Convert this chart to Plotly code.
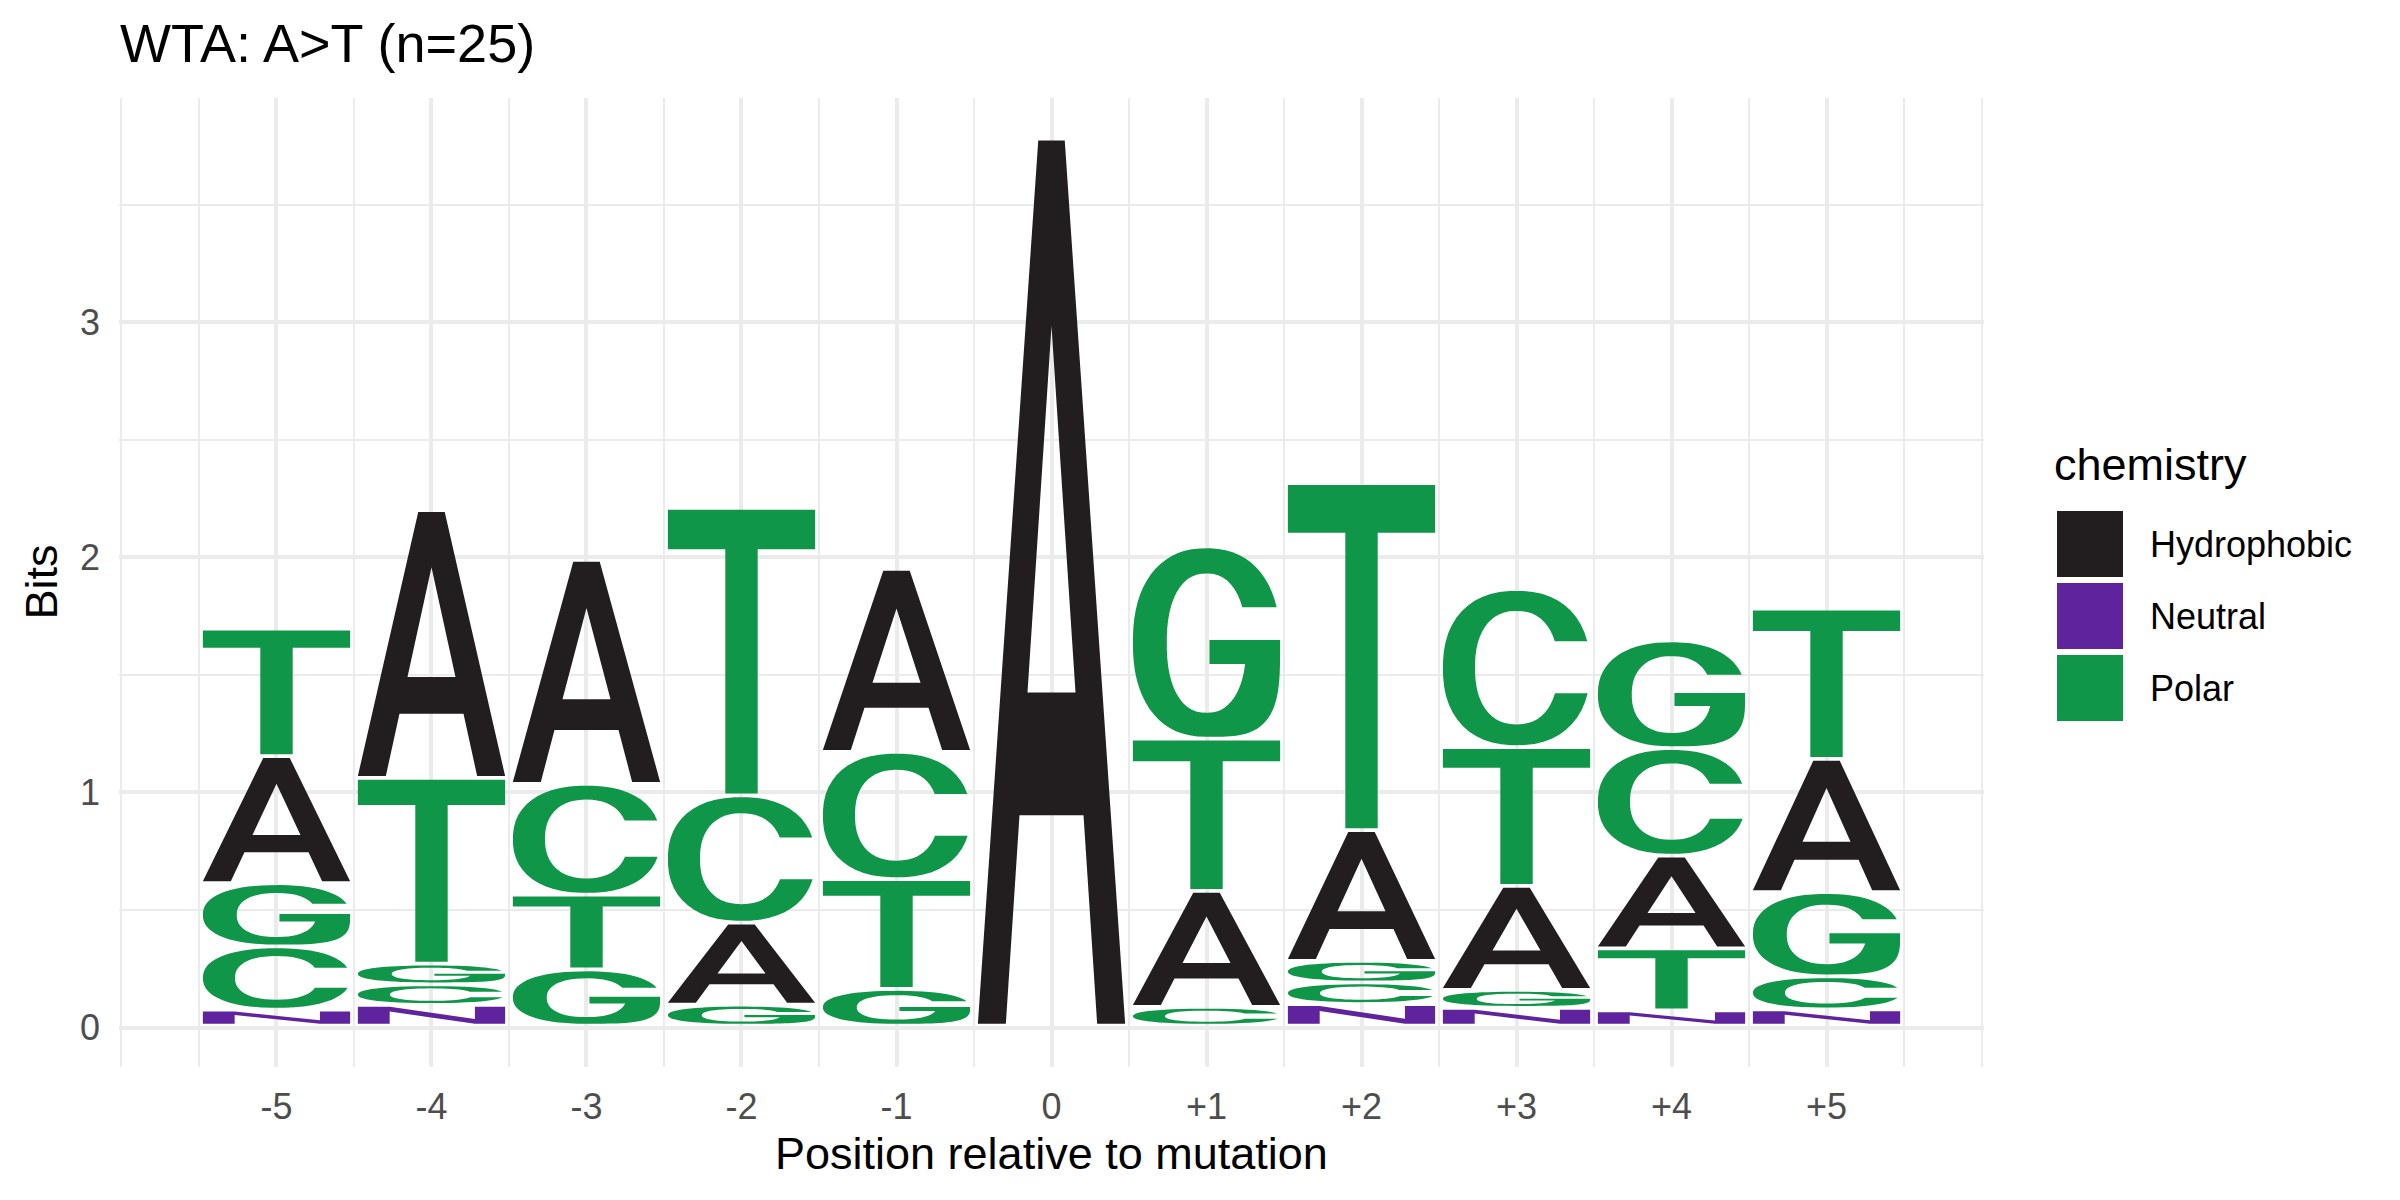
import numpy as np
import plotly.graph_objects as go

# ---------------- data ----------------
positions = [-5, -4, -3, -2, -1, 0, 1, 2, 3, 4, 5]
position_labels = ["-5", "-4", "-3", "-2", "-1", "0", "+1", "+2", "+3", "+4", "+5"]
bits_A = [0.541, 1.140, 0.953, 0.349, 0.778, 3.774, 0.493, 0.556, 0.443, 0.394, 0.567]
bits_C = [0.269, 0.088, 0.472, 0.542, 0.542, 0.000, 0.080, 0.092, 0.673, 0.458, 0.141]
bits_G = [0.269, 0.088, 0.239, 0.089, 0.156, 0.000, 0.818, 0.092, 0.076, 0.458, 0.358]
bits_T = [0.542, 0.790, 0.318, 1.223, 0.467, 0.000, 0.648, 1.476, 0.590, 0.264, 0.639]
bits_N = [0.068, 0.088, 0.000, 0.000, 0.000, 0.000, 0.000, 0.092, 0.076, 0.065, 0.069]
letter_bits = {"A": bits_A, "C": bits_C, "G": bits_G, "T": bits_T, "N": bits_N}
tie_order = ["N", "C", "G", "A", "T"]
chemistry = {"A": "Hydrophobic", "C": "Polar", "G": "Polar", "T": "Polar", "N": "Neutral"}
groups = ["Hydrophobic", "Neutral", "Polar"]
group_colors = {"Hydrophobic": "#221E1F", "Neutral": "#5E239D", "Polar": "#109648"}

TITLE = "WTA: A>T (n=25)"
FONT = "Liberation Sans, Arial, Helvetica, sans-serif"

# ---------------- figure geometry ----------------
W, H = 2400, 1200
ML, MR, MT, MB = 119, 416, 98, 133
PW, PH = W - ML - MR, H - MT - MB
XR = [-6.016, 6.016]
YR = [-0.168, 3.955]
COL_W = 0.95
GAP = 0.016


def px(xp):
    return (xp - ML) / PW


def py(yp):
    return (H - MB - yp) / PH


# ---------------- glyph outlines (unit box) ----------------
def se(cx, cy, rx, ry, t, n):
    t = np.radians(t)
    c, s = np.cos(t), np.sin(t)
    return (cx + rx * np.sign(c) * abs(c) ** (2 / n), cy + ry * np.sign(s) * abs(s) ** (2 / n))


def se_angle(cy, ry, y, n):
    v = (y - cy) / ry
    s = np.sign(v) * abs(v) ** (n / 2)
    return float(np.degrees(np.arcsin(s)))


def arc(cx, cy, rx, ry, t0, t1, n, steps=48):
    return [se(cx, cy, rx, ry, t, n) for t in np.linspace(t0, t1, steps)]


NE = 2.3


def glyph_C():
    tu = se_angle(0.5, 0.5, 0.674, NE)
    tl = se_angle(0.5, 0.5, 0.337, NE)
    outer = arc(0.5, 0.5, 0.5, 0.5, tu, 360 + tl, NE)
    icy, iry, irx = 0.5025, 0.3675, 0.282
    tiu = se_angle(icy, iry, 0.674, NE)
    til = se_angle(icy, iry, 0.337, NE)
    inner = arc(0.5, icy, irx, iry, 360 + til, tiu, NE)
    return [outer + inner]


def glyph_G():
    tu = se_angle(0.5, 0.5, 0.687, NE)
    outer = arc(0.5, 0.5, 0.5, 0.5, tu, 270, NE) + arc(0.5, 0.5, 0.5, 0.5, 270, 360, 3.5, 24)
    bar = [(1.0, 0.513), (0.52, 0.513), (0.52, 0.386), (0.77, 0.386)]
    icy, iry, irx = 0.497, 0.37, 0.27
    ts = se_angle(icy, iry, 0.386, NE)
    tiu = se_angle(icy, iry, 0.687, NE)
    inner = arc(0.5, icy, irx, iry, ts, tiu - 360, NE)
    return [outer + bar + inner]


def glyph_A():
    outer = [(0, 0), (0.41, 1), (0.59, 1), (1, 0), (0.81, 0), (0.7174, 0.236),
             (0.2826, 0.236), (0.19, 0)]
    hole = [(0.5, 0.79), (0.337, 0.375), (0.663, 0.375)]
    return [outer, hole]


def glyph_T():
    return [[(0, 1), (1, 1), (1, 0.861), (0.61, 0.861), (0.61, 0), (0.39, 0),
             (0.39, 0.861), (0, 0.861)]]


def glyph_N():
    return [[(0, 0), (0, 1), (0.216, 1), (0.795, 0.28), (0.795, 1), (1, 1), (1, 0),
             (0.795, 0), (0.216, 0.72), (0.216, 0)]]


GLYPHS = {"A": glyph_A(), "C": glyph_C(), "G": glyph_G(), "T": glyph_T(), "N": glyph_N()}


def letter_path(letter, xc, y0, y1):
    x0 = xc - COL_W / 2
    yb = y0 + GAP
    hh = y1 - yb
    parts = []
    for contour in GLYPHS[letter]:
        pts = ["%.5f,%.5f" % (x0 + COL_W * gx, yb + hh * gy) for gx, gy in contour]
        parts.append("M" + " L".join(pts) + " Z")
    return " ".join(parts)


# ---------------- build figure ----------------
fig = go.Figure()
shapes = []
totals = []
for i, pos in enumerate(positions):
    stack = [(letter_bits[l][i], tie_order.index(l), l) for l in tie_order if letter_bits[l][i] > 0]
    stack.sort()
    base = 0.0
    for h, _, l in stack:
        top = base + h
        shapes.append(dict(type="path", path=letter_path(l, pos, base, top), xref="x", yref="y",
                           fillcolor=group_colors[chemistry[l]], line=dict(width=0),
                           fillrule="evenodd", layer="above"))
        base = top
    totals.append(base)

fig.add_trace(go.Scatter(x=positions, y=totals, mode="markers", marker=dict(opacity=0),
                         showlegend=False, hovertemplate="%{x}: %{y:.2f} bits<extra></extra>"))

# legend (drawn manually to match the large ggplot keys)
key_x0, key_x1 = 2057, 2123
key_tops = [511, 583, 655]
key_size = 66
annotations = []
for g, kt in zip(groups, key_tops):
    shapes.append(dict(type="rect", xref="paper", yref="paper", x0=px(key_x0), x1=px(key_x1),
                       y0=py(kt + key_size), y1=py(kt), fillcolor=group_colors[g],
                       line=dict(width=0), layer="above"))
    annotations.append(dict(text=g, x=px(2148), y=py(kt + key_size / 2), xref="paper", yref="paper",
                            xanchor="left", yanchor="middle", showarrow=False,
                            font=dict(family=FONT, size=36, color="#000000")))
annotations.append(dict(text="chemistry", x=px(2052), y=py(465), xref="paper", yref="paper",
                        xanchor="left", yanchor="middle", showarrow=False,
                        font=dict(family=FONT, size=45, color="#000000")))
# title & axis titles
annotations.append(dict(text=TITLE, x=px(118), y=py(43), xref="paper", yref="paper",
                        xanchor="left", yanchor="middle", showarrow=False,
                        font=dict(family=FONT, size=54, color="#000000")))
annotations.append(dict(text="Position relative to mutation", x=0.5, y=py(1153), xref="paper",
                        yref="paper", xanchor="center", yanchor="middle", showarrow=False,
                        font=dict(family=FONT, size=45, color="#000000")))
annotations.append(dict(text="Bits", x=px(41), y=0.5, xref="paper", yref="paper", textangle=-90,
                        xanchor="center", yanchor="middle", showarrow=False,
                        font=dict(family=FONT, size=45, color="#000000")))

grid = "#EBEBEB"
minor_x = [v / 2 for v in range(-12, 13) if v % 2 != 0] + [-6, 6]
fig.update_layout(
    width=W, height=H, margin=dict(l=ML, r=MR, t=MT, b=MB, autoexpand=False),
    paper_bgcolor="white", plot_bgcolor="white", showlegend=False,
    shapes=shapes, annotations=annotations,
    xaxis=dict(range=XR, tickmode="array", tickvals=positions, ticktext=position_labels,
               showgrid=True, gridcolor=grid, gridwidth=4, zeroline=False, showline=False,
               ticks="", ticklabelstandoff=15,
               tickfont=dict(family=FONT, size=36, color="#4D4D4D"),
               minor=dict(tickmode="array", tickvals=sorted(minor_x), showgrid=True,
                          gridcolor=grid, gridwidth=2.2, ticks=""),
               fixedrange=True),
    yaxis=dict(range=YR, tickmode="array", tickvals=[0, 1, 2, 3], ticktext=["0", "1", "2", "3"],
               showgrid=True, gridcolor=grid, gridwidth=4, zeroline=False, showline=False,
               ticks="", ticklabelstandoff=18,
               tickfont=dict(family=FONT, size=36, color="#4D4D4D"),
               minor=dict(tickmode="array", tickvals=[0.5, 1.5, 2.5, 3.5], showgrid=True,
                          gridcolor=grid, gridwidth=2.2, ticks=""),
               fixedrange=True),
)

fig.write_html("out.html")
